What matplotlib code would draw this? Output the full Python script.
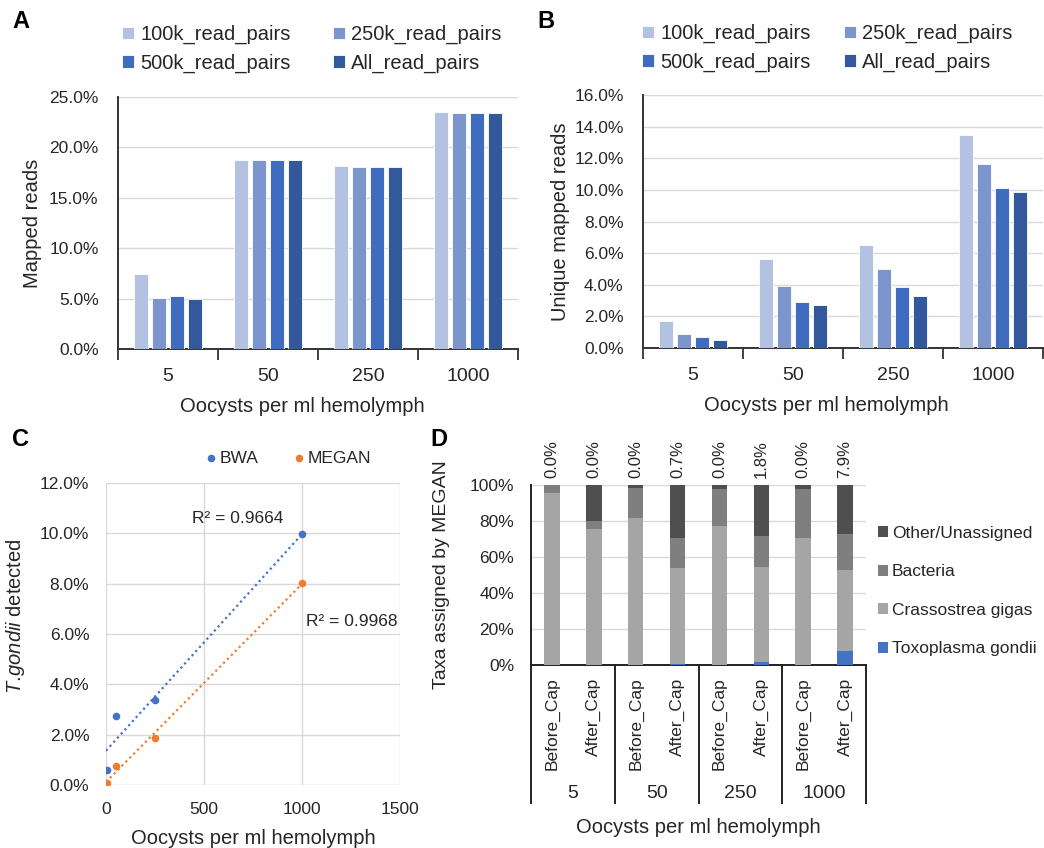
import numpy as np
import matplotlib
matplotlib.use('Agg')
import matplotlib.pyplot as plt
import matplotlib.transforms as mtransforms
from matplotlib.ticker import PercentFormatter

plt.rcParams['font.family'] = ['Liberation Sans', 'DejaVu Sans']
plt.rcParams['mathtext.fontset'] = 'custom'
plt.rcParams['mathtext.rm'] = 'Liberation Sans'
plt.rcParams['mathtext.it'] = 'Liberation Sans:italic'

W, H = 1044, 848
TXT = '#262626'
GRID = '#d9d9d9'

# --- données A / B
doses = ['5', '50', '250', '1000']
subsets = ['100k_read_pairs', '250k_read_pairs', '500k_read_pairs', 'All_read_pairs']
subset_colors = ['#b4c2e1', '#7c95cd', '#3f6cbf', '#33589b']

mapped_reads = [
    [7.45, 18.75, 18.2, 23.55],
    [5.1, 18.75, 18.05, 23.4],
    [5.25, 18.75, 18.05, 23.4],
    [4.95, 18.75, 18.05, 23.4],
]
unique_mapped = [
    [1.72, 5.6, 6.52, 13.48],
    [0.88, 3.95, 4.98, 11.65],
    [0.69, 2.92, 3.87, 10.13],
    [0.53, 2.75, 3.32, 9.86],
]

# --- données C
oocysts = [5, 50, 250, 1000]
bwa_detected = [0.6, 2.75, 3.37, 9.96]
megan_detected = [0.07, 0.77, 1.88, 8.03]
r2_labels = ['R² = 0.9664', 'R² = 0.9968']

# --- données D
cap_labels = ['Before_Cap', 'After_Cap'] * 4
taxa = ['Toxoplasma gondii', 'Crassostrea gigas', 'Bacteria', 'Other/Unassigned']
taxa_colors = ['#4472c4', '#a5a5a5', '#7f7f7f', '#4f4f4f']
toxo = [0.0, 0.0, 0.0, 0.7, 0.0, 1.8, 0.0, 7.9]
crassostrea = [95.4, 75.8, 81.4, 53.2, 77.3, 52.9, 70.3, 44.7]
bacteria = [4.6, 4.1, 16.7, 16.4, 20.6, 17.2, 27.6, 20.4]
other = [0.0, 20.1, 1.9, 29.7, 2.1, 28.1, 2.1, 27.0]

fig = plt.figure(figsize=(W / 100, H / 100), dpi=100)


def px_axes(left, top, right, bottom):
    return fig.add_axes([left / W, 1 - bottom / H, (right - left) / W, (bottom - top) / H])


def fpos(x, y):
    return x / W, 1 - y / H


def grouped_bars(ax, values, ymax, ystep, ylabel, leg_xy, xlab_x, ylab_pad, colspace):
    x = np.arange(len(doses))
    for i, (vals, lab, col) in enumerate(zip(values, subsets, subset_colors)):
        ax.bar(x + (i - 1.5) * 0.18, vals, width=0.145, color=col,
               edgecolor='white', linewidth=0.6, label=lab, zorder=3)
    ax.set_xlim(-0.5, 3.5)
    ax.set_ylim(0, ymax)
    ax.set_yticks(np.arange(0, ymax + 0.01, ystep))
    ax.yaxis.set_major_formatter(PercentFormatter(decimals=1))
    ax.set_xticks(x)
    ax.set_xticklabels(doses)
    ax.set_xticks(np.arange(-0.5, 4, 1), minor=True)
    ax.tick_params(axis='x', which='major', length=0, labelsize=14, pad=14, colors=TXT)
    ax.tick_params(axis='x', which='minor', length=8, width=1.3, color='#333333')
    ax.tick_params(axis='y', length=0, labelsize=12.5, pad=14, colors=TXT)
    ax.grid(axis='y', color=GRID, linewidth=1, zorder=0)
    for s in ['top', 'right']:
        ax.spines[s].set_visible(False)
    for s in ['left', 'bottom']:
        ax.spines[s].set_color('#333333')
        ax.spines[s].set_linewidth(1.4)
    ax.set_ylabel(ylabel, fontsize=14.5, color=TXT, labelpad=ylab_pad)
    ax.set_xlabel('Oocysts per ml hemolymph', fontsize=14.5, color=TXT, labelpad=10)
    ax.xaxis.set_label_coords(xlab_x, -0.19)
    h, l = ax.get_legend_handles_labels()
    order = [0, 2, 1, 3]
    ax.legend([h[k] for k in order], [l[k] for k in order], ncol=2,
              loc='upper left', bbox_to_anchor=fpos(*leg_xy), bbox_transform=fig.transFigure,
              frameon=False, fontsize=14.5, handlelength=0.6, handleheight=0.6,
              handletextpad=0.3, columnspacing=colspace, labelspacing=0.45,
              borderpad=0, borderaxespad=0, labelcolor=TXT)


# A
axA = px_axes(118, 97, 518, 349)
grouped_bars(axA, mapped_reads, 25, 5, 'Mapped reads', (122, 25), 0.46, 5, 2.1)

# B
axB = px_axes(643, 95, 1043, 348)
grouped_bars(axB, unique_mapped, 16, 2, 'Unique mapped reads', (642, 24), 0.4575, 3, 1.65)

# C
axC = px_axes(106, 483, 400, 785)
for vals, lab, col in [(bwa_detected, 'BWA', '#4472c4'), (megan_detected, 'MEGAN', '#ed7d31')]:
    axC.scatter(oocysts, vals, s=30, color=col, label=lab, zorder=4, linewidths=0)
    slope, inter = np.polyfit(oocysts, vals, 1)
    xs = np.array([0, max(oocysts)])
    axC.plot(xs, slope * xs + inter, linestyle=(0, (1, 1.5)), color=col, linewidth=1.6, zorder=3)
axC.text(673, 10.57, r2_labels[0], fontsize=12.5, color=TXT, ha='center', va='center')
axC.text(1255, 6.48, r2_labels[1], fontsize=12.5, color=TXT, ha='center', va='center')
axC.set_xlim(0, 1500)
axC.set_ylim(0, 12)
axC.set_xticks([0, 500, 1000, 1500])
axC.set_yticks(np.arange(0, 12.01, 2))
axC.yaxis.set_major_formatter(PercentFormatter(decimals=1))
axC.grid(True, color=GRID, linewidth=1, zorder=0)
axC.set_axisbelow(True)
for s in axC.spines.values():
    s.set_visible(False)
axC.tick_params(length=0, labelsize=12.5, colors=TXT)
axC.tick_params(axis='x', pad=12)
axC.tick_params(axis='y', pad=12)
axC.set_ylabel(r'$\it{T.\!gondii}$ detected', fontsize=14.5, color=TXT, labelpad=4)
axC.yaxis.set_label_coords(-0.27, 0.56)
axC.set_xlabel('Oocysts per ml hemolymph', fontsize=14.5, color=TXT, labelpad=9)
axC.legend(ncol=2, loc='center left', bbox_to_anchor=fpos(206, 458), bbox_transform=fig.transFigure,
           frameon=False, fontsize=12.5, handlelength=0.6, handletextpad=0.2, columnspacing=2.0,
           borderpad=0, borderaxespad=0, labelcolor=TXT, scatterpoints=1)

# D
axD = px_axes(531, 485, 866, 665)
xd = np.arange(len(cap_labels))
bottom = np.zeros(len(cap_labels))
for vals, lab, col in zip([toxo, crassostrea, bacteria, other], taxa, taxa_colors):
    axD.bar(xd, vals, bottom=bottom, width=0.37, color=col, label=lab, zorder=3)
    bottom += np.array(vals)
for xi, v in zip(xd, toxo):
    axD.text(xi, 104, f'{v:.1f}%', rotation=90, ha='center', va='bottom', fontsize=12, color=TXT)
axD.set_xlim(-0.5, 7.5)
axD.set_ylim(0, 100)
axD.set_yticks(np.arange(0, 101, 20))
axD.yaxis.set_major_formatter(PercentFormatter(decimals=0))
axD.set_xticks(xd)
axD.set_xticklabels(cap_labels, rotation=90, fontsize=12.5)
axD.tick_params(axis='x', length=0, pad=9, colors=TXT)
axD.tick_params(axis='y', length=0, labelsize=12.5, pad=12, colors=TXT)
axD.grid(axis='y', color=GRID, linewidth=1, zorder=0)
for s in ['top', 'right']:
    axD.spines[s].set_visible(False)
for s in ['left', 'bottom']:
    axD.spines[s].set_color('#222222')
    axD.spines[s].set_linewidth(1.4)
trans = mtransforms.blended_transform_factory(axD.transData, axD.transAxes)
for b in np.arange(-0.5, 8, 2):
    axD.plot([b, b], [0, -0.767], transform=trans, clip_on=False, color='#222222', linewidth=1.4)
for g, d in enumerate(doses):
    axD.text(2 * g + 0.5, -0.715, d, transform=trans, ha='center', va='center', fontsize=14, color=TXT)
axD.set_ylabel('Taxa assigned by MEGAN', fontsize=14, color=TXT, labelpad=14)
axD.text(0.5, -0.905, 'Oocysts per ml hemolymph', transform=axD.transAxes, ha='center', va='center',
         fontsize=14.5, color=TXT)
h, l = axD.get_legend_handles_labels()
axD.legend(h[::-1], l[::-1], loc='center left', bbox_to_anchor=fpos(878, 591), bbox_transform=fig.transFigure,
           frameon=False, fontsize=12.5, handlelength=0.6, handleheight=0.6, handletextpad=0.2,
           labelspacing=1.35, borderpad=0, borderaxespad=0, labelcolor=TXT)

# lettres des panneaux
for letter, (x, y) in zip('ABCD', [(12, 22), (537, 22), (12, 440), (430, 440)]):
    fig.text(*fpos(x, y), letter, fontsize=17, fontweight='bold', ha='left', va='center')

fig.savefig('out.png', dpi=100)
